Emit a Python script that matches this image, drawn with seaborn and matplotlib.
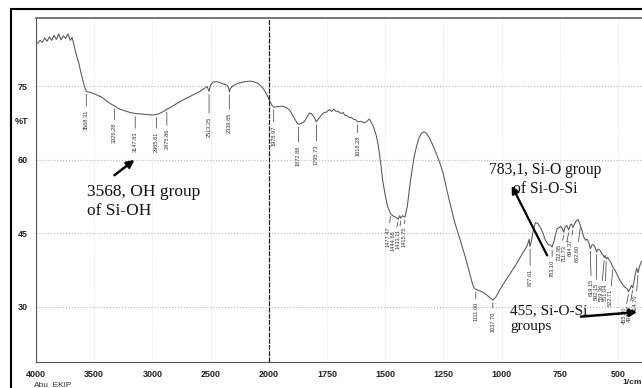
import numpy as np
import seaborn as sns
import matplotlib
matplotlib.use('Agg')
import matplotlib.pyplot as plt
from matplotlib.patches import Rectangle

# spectrum (wavenumber in 1/cm, transmittance in %T)
wavenumber = [4000, 3985, 3965, 3945, 3925, 3905, 3885, 3865, 3845, 3825, 3805, 3785,
              3765, 3745, 3725, 3705, 3690, 3675, 3660, 3645, 3630, 3615, 3600, 3585,
              3568, 3550, 3520, 3480, 3440, 3400, 3360, 3325, 3280, 3230, 3190, 3147,
              3100, 3050, 3000, 2965, 2930, 2900, 2875, 2840, 2800, 2750, 2700, 2650,
              2600, 2560, 2530, 2513, 2500, 2480, 2450, 2420, 2390, 2360, 2345, 2339,
              2330, 2310, 2280, 2240, 2200, 2160, 2120, 2090, 2060, 2040, 2020, 2000,
              1987, 1978, 1960, 1944, 1925, 1910, 1895, 1880, 1873, 1860, 1846, 1835,
              1825, 1815, 1805, 1796, 1785, 1774, 1762, 1752, 1740, 1730, 1722, 1712,
              1701, 1690, 1680, 1675, 1665, 1655, 1645, 1635, 1625, 1618, 1605, 1590,
              1578, 1568, 1560, 1551, 1540, 1530, 1520, 1510, 1500, 1490, 1477, 1465,
              1455, 1444, 1438, 1433, 1425, 1415, 1405, 1395, 1385, 1375, 1365, 1355,
              1345, 1335, 1325, 1312, 1298, 1282, 1265, 1250, 1235, 1218, 1200, 1175,
              1155, 1141, 1128, 1120, 1111, 1095, 1080, 1065, 1050, 1038, 1025, 1010,
              995, 980, 962, 940, 919, 905, 889, 882, 878, 872, 865, 855,
              845, 833, 822, 812, 800, 790, 783, 775, 768, 761, 752, 745,
              739, 733, 727, 720, 712, 705, 700, 694, 686, 678, 671, 667,
              662, 655, 648, 640, 632, 625, 619, 612, 605, 598, 592, 585,
              578, 570, 564, 559, 555, 551, 545, 538, 530, 522, 512, 500,
              490, 480, 470, 462, 455, 448, 442, 437, 432, 426, 420, 414,
              408, 402, 397]
transmittance = [84.0, 83.7, 84.3, 83.9, 84.8, 84.1, 85.0, 84.3, 85.3, 84.5, 85.6, 84.4,
                 85.2, 84.7, 85.6, 84.3, 84.9, 83.5, 82.0, 80.6, 79.5, 77.8, 76.4, 75.0,
                 73.9, 73.8, 73.6, 73.2, 72.8, 72.1, 71.4, 70.9, 70.3, 69.9, 69.6, 69.4,
                 69.3, 69.2, 69.1, 69.2, 69.5, 69.9, 70.3, 70.7, 71.3, 72.0, 72.6, 73.2,
                 73.8, 74.4, 74.9, 73.9, 75.2, 75.8, 75.9, 75.7, 75.4, 75.2, 74.6, 73.8,
                 74.5, 75.0, 75.4, 75.7, 75.9, 76.0, 75.8, 75.5, 74.8, 74.2, 73.4, 72.4,
                 71.1, 70.7, 70.8, 70.9, 70.6, 70.1, 68.8, 67.6, 67.2, 67.4, 67.8, 68.8,
                 69.5, 69.3, 68.6, 67.7, 68.4, 69.1, 69.6, 69.7, 70.2, 69.8, 70.3, 69.9,
                 69.8, 69.4, 69.6, 69.1, 69.0, 68.6, 68.6, 68.2, 68.1, 67.7, 67.8, 67.5,
                 67.8, 68.3, 67.6, 66.8, 65.2, 63.0, 59.5, 55.5, 52.8, 50.5, 49.0, 48.5,
                 48.3, 47.9, 48.6, 48.1, 48.6, 48.3, 50.5, 54.5, 57.8, 60.8, 62.8, 64.4,
                 65.3, 65.7, 65.5, 64.6, 63.2, 61.4, 59.3, 57.0, 53.8, 50.4, 47.0, 43.2,
                 40.0, 37.5, 35.2, 34.0, 33.6, 33.3, 33.0, 32.5, 31.9, 31.4, 32.0, 33.3,
                 34.5, 35.6, 36.9, 38.5, 40.2, 41.3, 42.6, 43.8, 42.3, 43.5, 45.4, 47.2,
                 47.0, 46.2, 45.0, 43.6, 42.7, 42.6, 42.2, 43.4, 44.8, 46.0, 46.2, 46.4,
                 45.9, 45.2, 46.3, 46.6, 45.7, 46.7, 46.9, 46.2, 47.0, 47.6, 47.8, 47.3,
                 46.6, 45.6, 44.4, 43.6, 43.8, 43.0, 41.9, 42.6, 42.7, 42.1, 41.2, 41.8,
                 41.6, 40.9, 40.6, 40.1, 40.5, 39.8, 40.1, 39.6, 39.0, 38.1, 37.4, 36.2,
                 35.3, 34.6, 34.0, 33.8, 33.1, 33.8, 34.4, 33.9, 35.0, 36.6, 37.9, 37.0,
                 38.2, 39.0, 39.4]

peak_labels = ["3568.31", "3325.28", "3147.83", "2965.61", "2875.86", "2513.25", "2339.65",
               "1978.97", "1872.88", "1795.73", "1618.28", "1477.47", "1444.68", "1433.11",
               "1415.75", "1111.00", "1037.70", "877.61", "783.10", "732.95", "711.73",
               "694.37", "662.60", "619.15", "592.15", "559.36", "551.04", "522.71",
               "455.20", "437.77", "414.70"]
# label offsets from the peak, in points
label_dx = [0, 0, 0, 0, 0, 0, 0,
            0, 0, 0, 0, -1.8, -3.6, -2.0,
            -0.6, 0, 0, 0, 0, -3.0, -3.3,
            -2.0, -2.2, 0.8, 0, -2.2, -0.7, -1.8,
            -3.0, -2.6, -1.5]
label_dy = [11, 10, 11, 10, 12, 16, 13,
            11, 13, 14, 8, 7, 6, 6,
            5, 7, 6, 14, 7, 6, 9,
            6, 12, 20, 20, 17, 16, 14,
            9, 10, 14]

x_ticks = [4000, 3500, 3000, 2500, 2000, 1750, 1500, 1250, 1000, 750, 500]
y_ticks = [30, 45, 60, 75]


# the recorder halves the scale above 2000 1/cm
def fwd(w):
    w = np.asarray(w, dtype=float)
    return np.where(w >= 2000, 2000 + (w - 2000) / 2, w)


def inv(u):
    u = np.asarray(u, dtype=float)
    return np.where(u >= 2000, 2000 + (u - 2000) * 2, u)


sns.set_theme(style='white')
plt.rcParams['font.family'] = ['Liberation Sans', 'DejaVu Sans']

fig = plt.figure(figsize=(6.42, 3.88), dpi=100)
ax = fig.add_axes([36 / 642, 26 / 388, 606 / 642, 344 / 388])
ax.set_xscale('function', functions=(fwd, inv))

sns.lineplot(x=wavenumber, y=transmittance, ax=ax, color='#555555', lw=0.75,
             sort=False, estimator=None)

ax.set_xlim(4000, 397)
ax.set_ylim(18.8, 88.85)

ax.set_xticks(x_ticks)
ax.set_xticklabels([str(t) for t in x_ticks], fontsize=6.5, fontweight='bold')
ax.set_xticks(list(np.arange(4000, 2000, -100)) + list(np.arange(2000, 390, -50)), minor=True)
ax.set_yticks(y_ticks)
ax.set_yticklabels([str(t) for t in y_ticks], fontsize=6.5, fontweight='bold')
ax.set_yticks(np.arange(21, 88, 3), minor=True)
ax.tick_params(axis='x', which='major', direction='inout', length=4, width=0.7, pad=4, colors='#222222')
ax.tick_params(axis='x', which='minor', direction='inout', length=3, width=0.5, colors='#444444')
ax.tick_params(axis='y', which='major', direction='out', length=5, width=0.7, pad=1, colors='#222222')
ax.tick_params(axis='y', which='minor', direction='out', length=2.5, width=0.5, colors='#444444')
ax.set_xlabel('')
ax.set_ylabel('')

ax.grid(axis='y', which='major', ls=':', color='#b8b8b8', lw=0.8)
ax.grid(axis='x', which='major', ls=':', color='#e0e0e0', lw=0.7)
ax.axvline(2000, color='#222222', lw=0.9, ls=(0, (4, 1)))

for side in ['left', 'bottom']:
    ax.spines[side].set_color('#555555')
    ax.spines[side].set_linewidth(0.8)
ax.spines['top'].set_color('#777777')
ax.spines['top'].set_linewidth(1.4)
ax.spines['right'].set_visible(False)

# peak markers
for lbl, dx, dy in zip(peak_labels, label_dx, label_dy):
    w = float(lbl)
    t = np.interp(w, wavenumber[::-1], transmittance[::-1])
    ax.annotate(lbl, xy=(w, t - 0.6), xytext=(dx, -dy), textcoords='offset points',
                rotation=90, ha='center', va='top', fontsize=4.1, color='#333333',
                arrowprops=dict(arrowstyle='-', lw=0.5, color='#333333',
                                shrinkA=0, shrinkB=0))

# assignments
serif = ['Liberation Serif', 'DejaVu Serif']
ax.text(3563, 51.5, '3568, OH group\nof Si-OH', family=serif, fontsize=12.5,
        ha='left', va='center', linespacing=1.25, color='#111111')
ax.annotate('', xy=(3135, 60.3), xytext=(3345, 56.5),
            arrowprops=dict(arrowstyle='-|>', lw=1.8, color='black', mutation_scale=11))

ax.text(812, 55.9, '783,1, Si-O group\nof Si-O-Si', family=serif, fontsize=11.2,
        ha='center', va='center', multialignment='center', linespacing=1.25, color='#111111')
ax.annotate('', xy=(962, 55.2), xytext=(799, 40.0),
            arrowprops=dict(arrowstyle='-|>', lw=1.6, color='black', mutation_scale=11))

ax.text(962, 27.6, '455, Si-O-Si\ngroups', family=serif, fontsize=11,
        ha='left', va='center', linespacing=1.25, color='#111111')
ax.annotate('', xy=(406, 29.0), xytext=(671, 28.0),
            arrowprops=dict(arrowstyle='-|>', lw=1.8, color='black', mutation_scale=11))

fig.text(15 / 642, 1 - 122 / 388, '%T', fontsize=6.5, fontweight='bold', va='center', color='#222222')
fig.text(34 / 642, 1 - 385 / 388, 'Abu_EKIP', fontsize=6, va='center', color='#333333')
fig.text(622 / 642, 1 - 382 / 388, '1/cm', fontsize=6, fontweight='bold', va='center', color='#222222')

fig.add_artist(Rectangle((11 / 642, -0.05), 1.1, 1.05 - 9 / 388, transform=fig.transFigure,
                         fill=False, lw=1.5, ec='black'))

fig.savefig('out.png', dpi=100, facecolor='white')
